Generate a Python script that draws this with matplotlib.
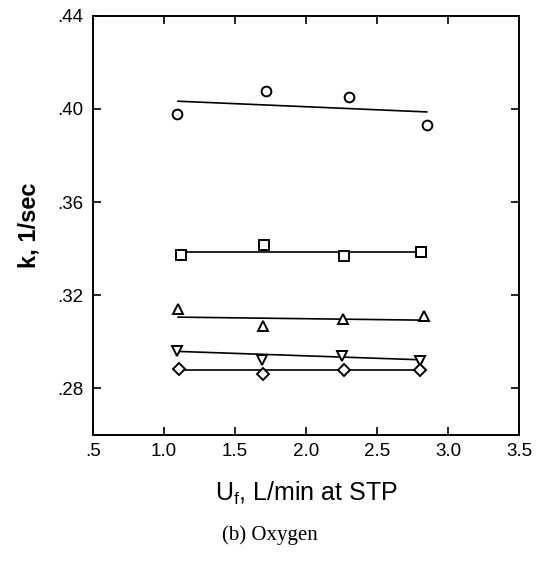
import matplotlib
matplotlib.use("Agg")
import matplotlib.pyplot as plt

plt.rcParams["font.family"] = "Liberation Sans"
plt.rcParams["mathtext.fontset"] = "custom"
plt.rcParams["mathtext.rm"] = "Liberation Sans"

# measured points, U_f [L/min] vs k [1/s]
circ_x = [1.09, 1.72, 2.30, 2.85]
circ_y = [0.3977, 0.4077, 0.4051, 0.3931]
sq_x = [1.12, 1.705, 2.27, 2.81]
sq_y = [0.3374, 0.3414, 0.3370, 0.3387]
tri_x = [1.10, 1.70, 2.26, 2.83]
tri_y = [0.3139, 0.3067, 0.3096, 0.3110]
vtri_x = [1.09, 1.69, 2.25, 2.80]
vtri_y = [0.2962, 0.2923, 0.2941, 0.2916]
dia_x = [1.105, 1.70, 2.27, 2.80]
dia_y = [0.2884, 0.2863, 0.2881, 0.2880]

# fitted lines (end points)
circ_fit_x, circ_fit_y = [1.10, 2.85], [0.4033, 0.3987]
sq_fit_x, sq_fit_y = [1.12, 2.81], [0.3387, 0.3387]
tri_fit_x, tri_fit_y = [1.10, 2.83], [0.3106, 0.3093]
vtri_fit_x, vtri_fit_y = [1.09, 2.80], [0.2959, 0.2923]
dia_fit_x, dia_fit_y = [1.105, 2.80], [0.2879, 0.2879]

xticks = [0.5, 1.0, 1.5, 2.0, 2.5, 3.0, 3.5]
xlabels = [".5", "1.0", "1.5", "2.0", "2.5", "3.0", "3.5"]
yticks = [0.28, 0.32, 0.36, 0.40, 0.44]
ylabels = [".28", ".32", ".36", ".40", ".44"]

fig = plt.figure(figsize=(5.43, 5.62), dpi=100)
ax = fig.add_axes([0.171, 0.226, 0.785, 0.746])

mk = dict(ls="none", mfc="white", mec="black", mew=1.4, ms=7)
ax.plot(circ_x, circ_y, marker="o", **mk)
ax.plot(sq_x, sq_y, marker="s", **mk)
ax.plot(tri_x, tri_y, marker="^", **mk)
ax.plot(vtri_x, vtri_y, marker="v", **mk)
ax.plot(dia_x, dia_y, marker="D", **dict(mk, ms=6))

for fx, fy in [(circ_fit_x, circ_fit_y), (sq_fit_x, sq_fit_y), (tri_fit_x, tri_fit_y),
               (vtri_fit_x, vtri_fit_y), (dia_fit_x, dia_fit_y)]:
    ax.plot(fx, fy, color="black", lw=1.2, zorder=1)

ax.set_xlim(0.5, 3.5)
ax.set_ylim(0.26, 0.44)
ax.set_xticks(xticks, xlabels)
ax.set_yticks(yticks, ylabels)
ax.tick_params(direction="in", length=6, width=1.2, top=True, right=True,
               labelsize=13.5)
ax.tick_params(axis="x", pad=6)
ax.tick_params(axis="y", pad=7)
for s in ax.spines.values():
    s.set_linewidth(1.4)

ax.set_xlabel(r"U$_\mathregular{f}$, L/min at STP", fontsize=18, labelpad=14)
ax.set_ylabel("k, 1/sec", fontsize=17, fontweight="bold", labelpad=12)
fig.text(0.497, 0.048, "(b) Oxygen", ha="center", va="center",
         fontsize=15, family="Liberation Serif")

plt.savefig("out.png", dpi=100)
